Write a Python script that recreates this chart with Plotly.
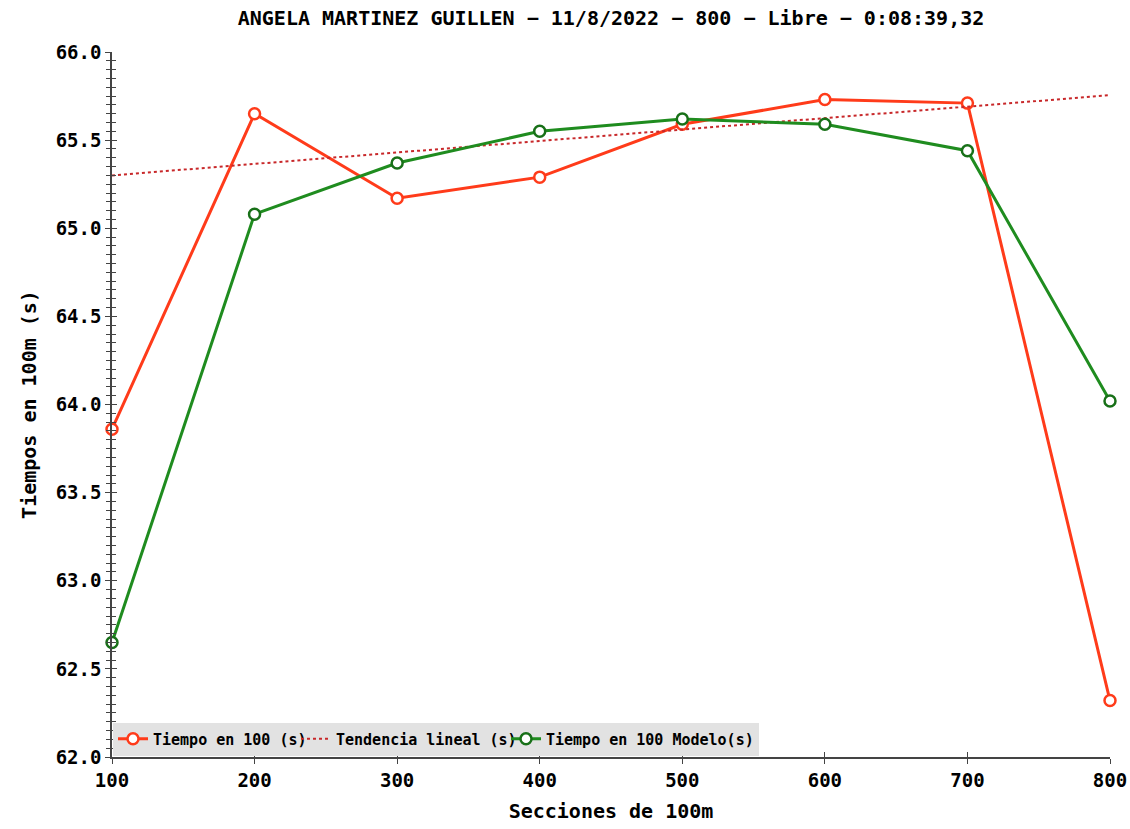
import plotly.graph_objects as go

sections = [100, 200, 300, 400, 500, 600, 700, 800]
tiempo_100 = [63.86, 65.65, 65.17, 65.29, 65.59, 65.73, 65.71, 62.32]
tiempo_modelo = [62.65, 65.08, 65.37, 65.55, 65.62, 65.59, 65.44, 64.02]
trend_x = [100, 800]
trend_y = [65.30, 65.755]

title_text = "ANGELA MARTINEZ GUILLEN − 11/8/2022 − 800 − Libre − 0:08:39,32"
FONT = "DejaVu Sans Mono"

RED = "#ff3b1a"
GREEN = "#1f8c1f"

W, H = 1130, 829

fig = go.Figure()
fig.add_trace(go.Scatter(
    x=sections, y=tiempo_100, name="Tiempo en 100 (s)", mode="lines+markers",
    line=dict(color=RED, width=3), cliponaxis=False, legendwidth=138,
    marker=dict(symbol="circle", size=11, color="white", line=dict(color=RED, width=2.5)),
))
fig.add_trace(go.Scatter(
    x=trend_x, y=trend_y, name="Tendencia lineal (s)", mode="lines", legendwidth=165,
    line=dict(color="#c8282a", width=2, dash="dot"),
))
fig.add_trace(go.Scatter(
    x=sections, y=tiempo_modelo, name="Tiempo en 100 Modelo(s)", mode="lines+markers",
    line=dict(color=GREEN, width=3), cliponaxis=False,
    marker=dict(symbol="circle", size=11, color="white", line=dict(color="#187018", width=2.5)),
))

axfont = dict(family=FONT, size=19, color="black", weight="bold")
tfont = dict(family=FONT, size=20, color="black", weight="bold")
fig.update_layout(
    width=W, height=H,
    paper_bgcolor="white", plot_bgcolor="white",
    margin=dict(l=112, r=20, t=52, b=72, autoexpand=False),
    font=dict(family=FONT, color="black"),
    title=dict(text=title_text, x=611 / W, xanchor="center", y=1 - 18 / H, yanchor="middle",
               font=tfont),
    showlegend=True,
    legend=dict(orientation="h", x=0.001, y=0.002, xanchor="left", yanchor="bottom",
                bgcolor="#e2e2e2", font=dict(family=FONT, size=15, color="black", weight="bold"),
                itemwidth=30, tracegroupgap=0, borderwidth=0),
    xaxis=dict(range=[100, 800], tickvals=sections, ticktext=[str(s) for s in sections],
               showgrid=False, zeroline=False, showline=True, linecolor="#444", linewidth=1.5,
               ticks="outside", ticklen=5, tickcolor="#444", tickfont=axfont, automargin=False,
               title=dict(text="Secciones de 100m", font=tfont, standoff=14)),
    yaxis=dict(range=[62.0, 66.0], dtick=0.5, tickformat=".1f", automargin=False,
               showgrid=False, zeroline=False, showline=True, linecolor="#444", linewidth=1.5,
               ticks="outside", ticklen=5, tickcolor="#444", tickfont=axfont,
               minor=dict(dtick=0.05, ticks="outside", ticklen=4, tickcolor="#444", showgrid=False),
               title=dict(text="Tiempos en 100m (s)", font=tfont, standoff=14)),
    xaxis2=dict(overlaying="x", range=[100, 800], tickvals=sections, showticklabels=False,
                showgrid=False, zeroline=False, ticks="inside", ticklen=5, tickcolor="#444",
                side="bottom", anchor="y", automargin=False),
    yaxis2=dict(overlaying="y", range=[62.0, 66.0], dtick=0.5, showticklabels=False,
                showgrid=False, zeroline=False, ticks="inside", ticklen=5, tickcolor="#444",
                minor=dict(dtick=0.05, ticks="inside", ticklen=4, tickcolor="#444", showgrid=False),
                side="left", anchor="x", automargin=False),
)
fig.add_trace(go.Scatter(x=trend_x, y=trend_y, xaxis="x2", yaxis="y2", mode="lines",
                         line=dict(width=0), opacity=0, showlegend=False, hoverinfo="skip"))

fig.write_html("out.html", config={"displayModeBar": False},
               post_script="document.body.style.margin='0';document.body.style.overflow='hidden';")
